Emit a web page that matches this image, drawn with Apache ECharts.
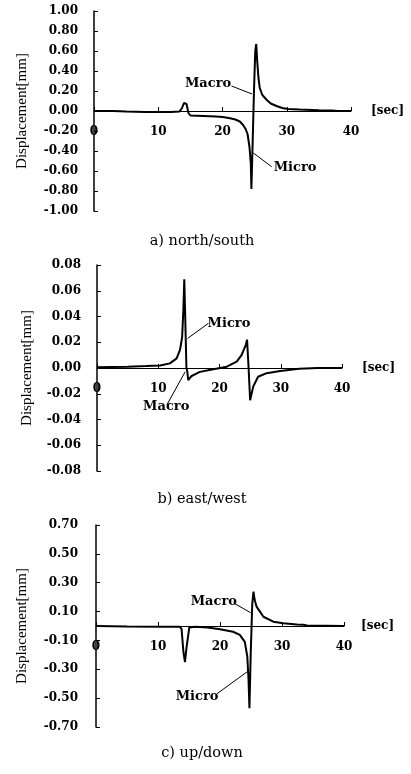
<!DOCTYPE html>
<html>
<head>
<meta charset="utf-8">
<script src="https://cdn.jsdelivr.net/npm/echarts@6/dist/echarts.min.js"></script>
<style>
html,body{margin:0;padding:0;background:#fff;}
#chart{width:411px;height:774px;}
</style>
</head>
<body>
<div id="chart"></div>
<script>
// ---- a) north/south ----
const nsTime = [0, 3, 5, 8, 12, 13.3, 13.7, 14.0, 14.2, 14.4, 14.7, 15.0, 17, 19, 20, 21, 22, 22.7, 23.2, 23.6, 23.9, 24.2, 24.4, 24.5, 24.7, 24.9, 25.1, 25.25, 25.4, 25.6, 25.8, 26.2, 26.9, 27.5, 28.4, 29.3, 30.2, 32, 35, 37, 38, 40];
const nsDisp = [0, 0, -0.005, -0.01, -0.01, -0.005, 0.03, 0.08, 0.10, 0.07, -0.02, -0.045, -0.05, -0.055, -0.06, -0.07, -0.085, -0.105, -0.14, -0.18, -0.23, -0.36, -0.52, -0.78, -0.3, 0.2, 0.6, 0.67, 0.5, 0.33, 0.23, 0.16, 0.11, 0.075, 0.05, 0.03, 0.02, 0.015, 0.008, 0.005, 0, 0];

// ---- b) east/west ----
const ewTime = [0, 5, 8, 10.3, 11.9, 13.0, 13.55, 13.9, 14.1, 14.25, 14.4, 14.6, 14.75, 14.9, 15.45, 16.8, 19, 21.2, 22.8, 23.6, 24.3, 24.5, 24.75, 25.0, 25.5, 26.3, 27.7, 29.9, 33, 36, 40];
const ewDisp = [0.0005, 0.001, 0.0015, 0.002, 0.0036, 0.0075, 0.014, 0.024, 0.045, 0.069, 0.04, 0.0, -0.003, -0.0095, -0.0062, -0.003, -0.001, 0.001, 0.005, 0.010, 0.018, 0.022, 0.0, -0.025, -0.0145, -0.0068, -0.004, -0.0023, -0.0005, 0, 0];

// ---- c) up/down ----
const udTime = [0, 5, 10, 13.5, 13.8, 14.1, 14.35, 14.6, 15.05, 16, 18, 20, 22.1, 23.2, 24.0, 24.4, 24.6, 24.75, 24.95, 25.2, 25.4, 25.6, 25.9, 27.0, 28.6, 30.2, 32.4, 33.5, 34, 40];
const udDisp = [0, -0.003, -0.005, -0.005, -0.02, -0.18, -0.25, -0.15, -0.01, -0.005, -0.01, -0.023, -0.04, -0.062, -0.11, -0.21, -0.37, -0.57, -0.2, 0.15, 0.238, 0.18, 0.134, 0.064, 0.03, 0.019, 0.01, 0.008, 0.003, 0];

// tick labels
const timeTicks = [0, 10, 20, 30, 40];
const udTicks = ['-0.70', '-0.50', '-0.30', '-0.10', '0.10', '0.30', '0.50', '0.70'];

// captions and axis texts
const captions = ['a) north/south', 'b) east/west', 'c) up/down'];
const yName = 'Displacement[mm]';
const xName = '[sec]';

// annotations: text position, leader line start, leader line end (data coords)
const nsNotes = [
  {text: 'Macro', at: [17.75, 0.27], from: [21.4, 0.25], to: [24.6, 0.17]},
  {text: 'Micro', at: [31.3, -0.57], from: [24.8, -0.42], to: [27.65, -0.557]}
];
const ewNotes = [
  {text: 'Micro', at: [21.55, 0.0342], from: [14.8, 0.023], to: [18.2, 0.0347]},
  {text: 'Macro', at: [11.3, -0.0303], from: [11.4, -0.0287], to: [14.4, -0.0029]}
];
const udNotes = [
  {text: 'Macro', at: [19.0, 0.166], from: [22.3, 0.157], to: [24.95, 0.092]},
  {text: 'Micro', at: [16.3, -0.49], from: [19.5, -0.47], to: [24.4, -0.317]}
];

const zip = (a, b) => a.map((v, i) => [v, b[i]]);

const numFont = {fontFamily: 'DejaVu Serif', fontWeight: 'bold', fontSize: 12, color: '#000'};
const grids = [
  {left: 94, right: 60, top: 11, height: 200},
  {left: 97, right: 69, top: 265, height: 206},
  {left: 96, right: 67, top: 525, height: 202}
];
const yRanges = [[-1, 1], [-0.08, 0.08], [-0.7, 0.7]];

// place the time axis on the zero line of the displacement scale
function zeroOffset(i) {
  const r = yRanges[i];
  return -grids[i].height * (0 - r[0]) / (r[1] - r[0]);
}

function xAxisFor(i, gap) {
  return {
    gridIndex: i, type: 'value', min: 0, max: 40, interval: 10,
    position: 'bottom', offset: zeroOffset(i),
    axisLine: {onZero: false, lineStyle: {color: '#000', width: 1}},
    axisTick: {inside: true, length: 4, lineStyle: {color: '#000', width: 1}},
    axisLabel: Object.assign({margin: 15, formatter: v => timeTicks.includes(v) ? String(v) : ''}, numFont),
    splitLine: {show: false},
    name: xName, nameLocation: 'end', nameGap: gap,
    nameTextStyle: Object.assign({}, numFont, {fontSize: 12})
  };
}

function yAxisFor(i, interval, nameGap, showLabels) {
  return {
    gridIndex: i, type: 'value', min: yRanges[i][0], max: yRanges[i][1], interval: interval,
    position: 'left',
    axisLine: {show: true, onZero: false, lineStyle: {color: '#000', width: 1.5}},
    axisTick: {show: showLabels, inside: true, length: 4, lineStyle: {color: '#000', width: 1}},
    axisLabel: Object.assign({show: showLabels, margin: 16, formatter: v => v.toFixed(2)}, numFont),
    splitLine: {show: false},
    name: yName, nameLocation: 'middle', nameGap: nameGap,
    nameTextStyle: {fontFamily: 'Liberation Serif', fontSize: 15, color: '#000'}
  };
}

const yAxes = [
  yAxisFor(0, 0.2, 64, true),
  yAxisFor(1, 0.02, 62, true),
  yAxisFor(2, 0.1, 66, false),
  {
    gridIndex: 2, type: 'category', data: udTicks, boundaryGap: false,
    position: 'left', offset: 0,
    axisLine: {show: false, onZero: false},
    axisTick: {show: true, inside: true, length: 4, lineStyle: {color: '#000', width: 1}},
    axisLabel: Object.assign({margin: 18, interval: 0}, numFont),
    splitLine: {show: false}
  }
];

function traceSeries(i, yIdx, t, d) {
  return {
    type: 'line', xAxisIndex: i, yAxisIndex: yIdx, data: zip(t, d),
    showSymbol: false, symbol: 'none', smooth: false, silent: true,
    lineStyle: {color: '#000', width: 2}, z: 3
  };
}

function noteSeries(i, yIdx, notes) {
  const out = [];
  notes.forEach(n => {
    out.push({
      type: 'line', xAxisIndex: i, yAxisIndex: yIdx, data: [n.from, n.to],
      showSymbol: false, symbol: 'none', silent: true,
      lineStyle: {color: '#000', width: 1}, z: 4
    });
    out.push({
      type: 'scatter', xAxisIndex: i, yAxisIndex: yIdx, data: [n.at],
      symbolSize: 0, silent: true, z: 5,
      itemStyle: {color: '#000', opacity: 1},
      label: Object.assign({show: true, position: 'inside', formatter: n.text}, numFont, {fontSize: 13, color: '#000', opacity: 1, textBorderWidth: 0})
    });
  });
  return out;
}

const capTop = [229, 487, 741];
const option = {
  backgroundColor: '#fff',
  animation: false,
  title: captions.map((c, i) => ({
    text: c, left: 197, top: capTop[i], textAlign: 'center',
    textStyle: {fontFamily: 'DejaVu Serif', fontWeight: 'normal', fontSize: 14.5, color: '#000'}
  })),
  grid: grids,
  xAxis: [xAxisFor(0, 20), xAxisFor(1, 20), xAxisFor(2, 17)],
  yAxis: yAxes,
  series: [
    traceSeries(0, 0, nsTime, nsDisp),
    traceSeries(1, 1, ewTime, ewDisp),
    traceSeries(2, 2, udTime, udDisp)
  ].concat(noteSeries(0, 0, nsNotes), noteSeries(1, 1, ewNotes), noteSeries(2, 2, udNotes))
};

const chart = echarts.init(document.getElementById('chart'), null, {renderer: 'canvas'});
chart.setOption(option);
</script>
</body>
</html>
